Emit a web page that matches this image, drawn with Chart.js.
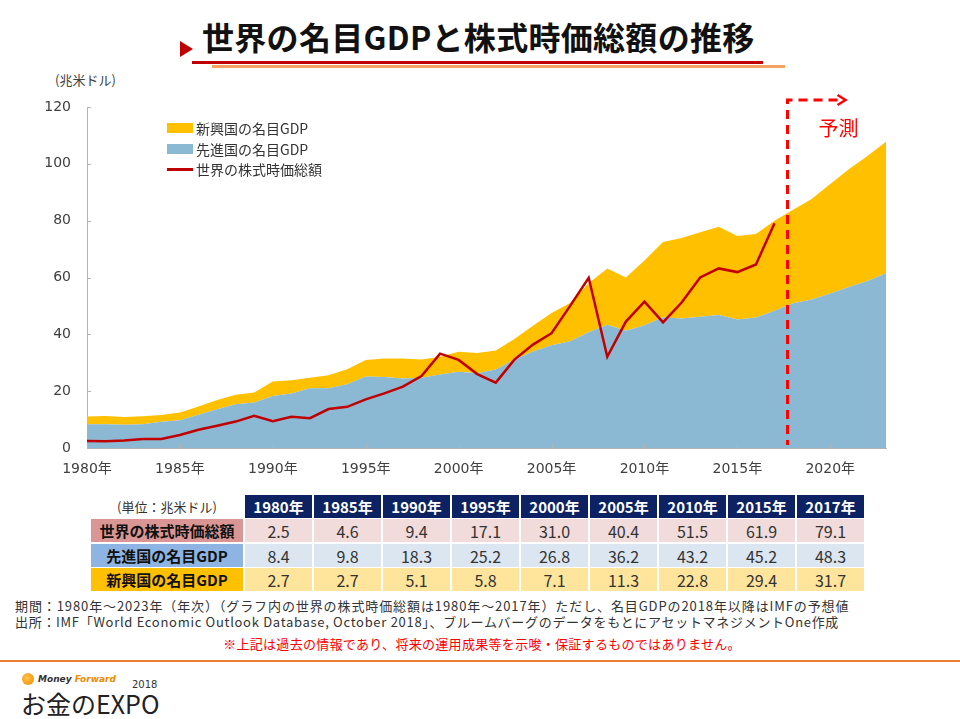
<!DOCTYPE html>
<html><head><meta charset="utf-8">
<script src="https://cdn.jsdelivr.net/npm/chart.js@4"></script>
<style>
body{margin:0;width:960px;height:719px;position:relative;background:#fff;font-family:"Noto Sans CJK JP",sans-serif;overflow:hidden;color:#333}
.abs{position:absolute;white-space:nowrap}
.cell{position:absolute;display:flex;align-items:center;justify-content:center;white-space:nowrap}
</style></head><body>

<div class="abs" style="left:180px;top:41px;width:0;height:0;border-top:8px solid transparent;border-bottom:8px solid transparent;border-left:13px solid #C00000"></div>
<div class="abs" id="title" style="left:202px;top:14px;font-size:32px;font-weight:700;color:#111;line-height:44px;letter-spacing:0.3px">世界の名目GDPと株式時価総額の推移</div>
<div class="abs" style="left:192px;top:61px;width:571px;height:3px;background:#C00000"></div>
<div class="abs" style="left:212px;top:65px;width:573px;height:3px;background:#F7A265"></div>

<div class="abs" style="left:55px;top:72px;font-size:13px;line-height:16px;color:#404040">(兆米ドル)</div>

<div class="abs" style="left:0;top:90px;width:960px;height:400px"><canvas id="c" width="960" height="400"></canvas></div>

<div id="legend"></div>
<div id="table"></div>

<div class="abs" style="left:15px;top:598px;font-size:13px;line-height:16px;color:#333;letter-spacing:0.9px">期間：1980年～2023年（年次）（グラフ内の世界の株式時価総額は1980年～2017年）ただし、名目GDPの2018年以降はIMFの予想値</div>
<div class="abs" style="left:15px;top:614px;font-size:13px;line-height:16px;color:#333;letter-spacing:0.7px">出所：IMF「World Economic Outlook Database, October 2018」、ブルームバーグのデータをもとにアセットマネジメントOne作成</div>
<div class="abs" style="left:0;width:964px;text-align:center;top:636px;font-size:13px;line-height:16px;color:#FF0000;letter-spacing:0.3px">※上記は過去の情報であり、将来の運用成果等を示唆・保証するものではありません。</div>

<div class="abs" style="left:0;top:660px;width:960px;height:2px;background:#ED7D31"></div>
<div class="abs" style="left:22px;top:673px;width:12px;height:12px;border-radius:50%;background:radial-gradient(circle at 40% 40%,#FFC24A,#F08A00)"></div>
<div class="abs" style="left:38px;top:672px;font-family:'DejaVu Sans',sans-serif;font-size:9px;font-weight:700;font-style:italic;line-height:14px;color:#333">Money <span style="color:#F08A00">Forward</span></div>
<div class="abs" style="left:132px;top:678px;font-family:'DejaVu Sans',sans-serif;font-size:10px;line-height:14px;color:#333">2018</div>
<div class="abs" style="left:21px;top:688px;font-size:25px;line-height:30px;color:#222">お金のEXPO</div>

<script>
// ---------- data ----------
const years = [1980,1981,1982,1983,1984,1985,1986,1987,1988,1989,1990,1991,1992,1993,1994,1995,1996,1997,1998,1999,2000,2001,2002,2003,2004,2005,2006,2007,2008,2009,2010,2011,2012,2013,2014,2015,2016,2017,2018,2019,2020,2021,2022,2023];
const stockCap = [2.5,2.4,2.6,3.2,3.2,4.6,6.4,7.8,9.3,11.3,9.4,11.0,10.5,13.7,14.5,17.1,19.2,21.6,25.3,33.2,31.0,26.0,23.0,31.1,36.4,40.4,50.0,59.9,32.1,44.5,51.5,44.2,51.2,60.0,63.2,61.9,64.6,79.1,null,null,null,null,null,null];
const advancedGDP = [8.4,8.4,8.2,8.4,9.2,9.8,11.7,13.6,15.4,16.0,18.3,19.2,21.0,21.0,22.4,25.2,25.0,24.5,24.7,25.9,26.8,26.3,27.6,31.1,34.0,36.2,37.6,40.7,43.4,41.3,43.2,46.0,45.6,46.2,46.8,45.2,45.9,48.3,50.9,52.3,54.4,56.7,58.8,61.5];
const emergingGDP = [2.7,2.9,2.7,2.8,2.4,2.7,2.9,3.3,3.3,3.5,5.1,4.6,3.7,4.6,5.3,5.8,6.5,7.0,6.4,6.2,7.1,7.1,6.7,7.3,9.0,11.3,13.4,17.3,19.8,18.7,22.8,26.5,28.3,29.7,31.1,29.4,29.4,31.7,32.9,35.3,38.5,41.4,44.0,46.3];
const tableYears = [1980,1985,1990,1995,2000,2005,2010,2015,2017];
const yTicks = {min:0, max:120, step:20};
const forecastFrom = 2017.7;
const seriesNames = {stock:'世界の株式時価総額', adv:'先進国の名目GDP', em:'新興国の名目GDP'};

// ---------- legend ----------
const legendItems = [
  {name:seriesNames.em, type:'box', color:'#FFC000'},
  {name:seriesNames.adv, type:'box', color:'#8BB9D4'},
  {name:seriesNames.stock, type:'line', color:'#C00000'}
];
const lg = document.getElementById('legend');
legendItems.forEach((it,i)=>{
  const top = 117 + i*20.5;
  const sw = document.createElement('div');
  sw.className='abs';
  if(it.type==='box'){ sw.style.cssText=`left:167px;top:${top+6}px;width:26px;height:10px;background:${it.color}`; }
  else { sw.style.cssText=`left:167px;top:${top+10}px;width:26px;height:2.5px;background:${it.color}`; }
  lg.appendChild(sw);
  const t = document.createElement('div');
  t.className='abs';
  t.style.cssText=`left:196px;top:${top}px;font-size:14px;line-height:22px;color:#333`;
  t.textContent=it.name;
  lg.appendChild(t);
});

// ---------- table ----------
const tb = document.getElementById('table');
function cell(x,y,w,h,bg,txt,style){
  const d=document.createElement('div'); d.className='cell';
  d.style.cssText=`left:${x}px;top:${y}px;width:${w}px;height:${h}px;background:${bg};${style||''}`;
  d.textContent=txt; tb.appendChild(d);
}
const rowsTop=[495,519,544,568], rowH=23, colX0=245, colW=67, colPitch=69;
cell(91,rowsTop[0],152,rowH,'transparent','(単位：兆米ドル)','font-size:13px;color:#333');
tableYears.forEach((yr,j)=>cell(colX0+j*colPitch,rowsTop[0],colW,rowH,'#0D2262',yr+'年','font-size:15px;font-weight:700;color:#fff'));
const tableRows=[
  {name:seriesNames.stock, vals:stockCap, bg:'#DA9694', cellBg:'#F2DCDB'},
  {name:seriesNames.adv, vals:advancedGDP, bg:'#8DB4E2', cellBg:'#DCE6F1'},
  {name:seriesNames.em, vals:emergingGDP, bg:'#FFC000', cellBg:'#FFE49C'}
];
tableRows.forEach((r,i)=>{
  const y=rowsTop[i+1];
  cell(91,y,152,rowH,r.bg,r.name,'font-size:15px;font-weight:700;color:#111');
  tableYears.forEach((yr,j)=>{
    const v=r.vals[years.indexOf(yr)];
    cell(colX0+j*colPitch,y,colW,rowH,r.cellBg,v.toFixed(1),'font-size:16px;color:#333');
  });
});

// ---------- chart ----------
const tickFont = {family:'"DejaVu Sans","Noto Sans CJK JP",sans-serif', size:14};
const overlay = {
  id:'overlay',
  afterDraw(chart){
    const {ctx, chartArea:a, scales:{x,y}} = chart;
    ctx.save();
    ctx.strokeStyle='#B4B4B4'; ctx.lineWidth=1;
    y.ticks.forEach(t=>{const py=Math.round(y.getPixelForValue(t.value))+0.5; ctx.beginPath(); ctx.moveTo(a.left,py); ctx.lineTo(a.left+4,py); ctx.stroke();});
    x.ticks.forEach(t=>{const px=Math.round(x.getPixelForValue(t.value))+0.5; ctx.beginPath(); ctx.moveTo(px,a.bottom); ctx.lineTo(px,a.bottom-4); ctx.stroke();});
    const fx = x.getPixelForValue(forecastFrom);
    const top = a.top-7;
    ctx.strokeStyle='#FF0000'; ctx.lineWidth=3; ctx.setLineDash([9,6]);
    ctx.beginPath(); ctx.moveTo(fx+50,top); ctx.lineTo(fx,top); ctx.lineTo(fx,a.bottom-3); ctx.stroke();
    ctx.setLineDash([]); ctx.lineWidth=2.5;
    ctx.beginPath(); ctx.moveTo(fx+50,top-5); ctx.lineTo(fx+58,top); ctx.lineTo(fx+50,top+5); ctx.stroke();
    ctx.fillStyle='#FF0000'; ctx.font='20px "Noto Sans CJK JP"'; ctx.textAlign='center'; ctx.textBaseline='middle';
    ctx.fillText('予測', fx+51, a.top+21);
    ctx.restore();
  }
};
new Chart(document.getElementById('c'), {
  type:'line',
  data:{
    datasets:[
      {label:seriesNames.stock, data:years.map((yr,i)=>({x:yr,y:stockCap[i]})), borderColor:'#C00000', borderWidth:2.5, pointRadius:0, fill:false, stack:'stock', tension:0},
      {label:seriesNames.adv, data:years.map((yr,i)=>({x:yr,y:advancedGDP[i]})), borderWidth:0, borderColor:'rgba(0,0,0,0)', backgroundColor:'#8BB9D4', fill:'origin', stack:'gdp', pointRadius:0, tension:0},
      {label:seriesNames.em, data:years.map((yr,i)=>({x:yr,y:emergingGDP[i]})), borderWidth:0, borderColor:'rgba(0,0,0,0)', backgroundColor:'#FFC000', fill:'-1', stack:'gdp', pointRadius:0, tension:0}
    ]
  },
  options:{
    responsive:false, animation:false, events:[],
    layout:{padding:{left:0,right:74,top:17,bottom:0}},
    plugins:{legend:{display:false}, tooltip:{enabled:false}},
    scales:{
      x:{type:'linear', min:years[0], max:years[years.length-1],
         afterBuildTicks:s=>{s.ticks=s.ticks.filter(t=>t.value%5===0);},
         afterFit:s=>{s.height=42;},
         ticks:{stepSize:5, autoSkip:false, maxRotation:0, padding:13, color:'#404040', font:tickFont, callback:v=>v+'年'},
         grid:{display:true, drawOnChartArea:false, drawTicks:false},
         border:{display:true, color:'#B4B4B4', width:1}},
      y:{stacked:true, min:yTicks.min, max:yTicks.max,
         afterFit:s=>{s.width=87;},
         ticks:{stepSize:yTicks.step, padding:8, color:'#404040', font:tickFont},
         grid:{display:true, drawOnChartArea:false, drawTicks:true, tickLength:8, tickColor:'rgba(0,0,0,0)'},
         border:{display:true, color:'#B4B4B4', width:1}}
    }
  },
  plugins:[overlay]
});
</script>
</body></html>
